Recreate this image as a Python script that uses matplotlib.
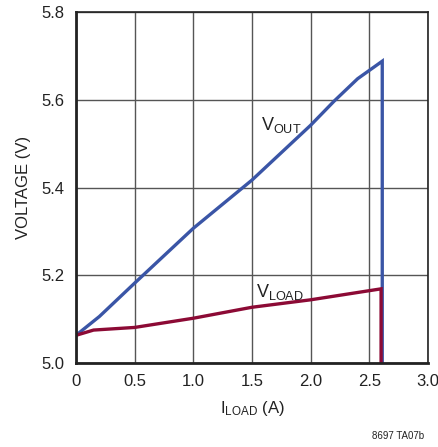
import matplotlib
matplotlib.use("Agg")
import matplotlib.pyplot as plt

plt.rcParams['font.family'] = ['Liberation Sans', 'DejaVu Sans']
plt.rcParams['mathtext.fontset'] = 'custom'
plt.rcParams['mathtext.rm'] = 'Liberation Sans'

# data
i_out = [0, 0.2, 0.5, 1.0, 1.5, 2.0, 2.2, 2.4, 2.61, 2.61]
v_out = [5.063, 5.106, 5.182, 5.307, 5.417, 5.542, 5.597, 5.648, 5.688, 5.0]

i_load = [0, 0.15, 0.5, 1.0, 1.5, 2.0, 2.6, 2.6]
v_load = [5.063, 5.075, 5.081, 5.102, 5.127, 5.144, 5.169, 5.0]

xticks = [0, 0.5, 1.0, 1.5, 2.0, 2.5, 3.0]
xlabels = ['0', '0.5', '1.0', '1.5', '2.0', '2.5', '3.0']
yticks = [5.0, 5.2, 5.4, 5.6, 5.8]

fig = plt.figure(figsize=(4.39, 4.47), dpi=100)
ax = fig.add_axes([0.173, 0.188, 0.802, 0.785])

ax.plot(i_out, v_out, color='#3a55a6', lw=2.4, solid_joinstyle='miter')
ax.plot(i_load, v_load, color='#8c0a35', lw=2.4, solid_joinstyle='miter')

ax.set_xlim(0, 3.0)
ax.set_ylim(5.0, 5.8)
ax.set_xticks(xticks)
ax.set_xticklabels(xlabels)
ax.set_yticks(yticks)
ax.grid(True, color='#555555', lw=1)
ax.tick_params(length=0, labelsize=12, pad=8, colors='#222222')
for s in ax.spines.values():
    s.set_color('#222222')
    s.set_linewidth(1.2)
ax.spines['left'].set_linewidth(2)
ax.spines['bottom'].set_linewidth(2)

ax.text(1.58, 5.53, r'$\mathregular{V_{OUT}}$', fontsize=13, color='#222222')
ax.text(1.53, 5.15, r'$\mathregular{V_{LOAD}}$', fontsize=13, color='#222222')

ax.set_xlabel(r'$\mathregular{I_{LOAD}}$ (A)', fontsize=12, color='#222222', labelpad=7)
ax.set_ylabel('VOLTAGE (V)', fontsize=12, color='#222222', labelpad=8)

fig.text(0.967, 0.013, '8697 TA07b', fontsize=7, ha='right', va='bottom', color='#222222')

fig.savefig('out.png', dpi=100)
